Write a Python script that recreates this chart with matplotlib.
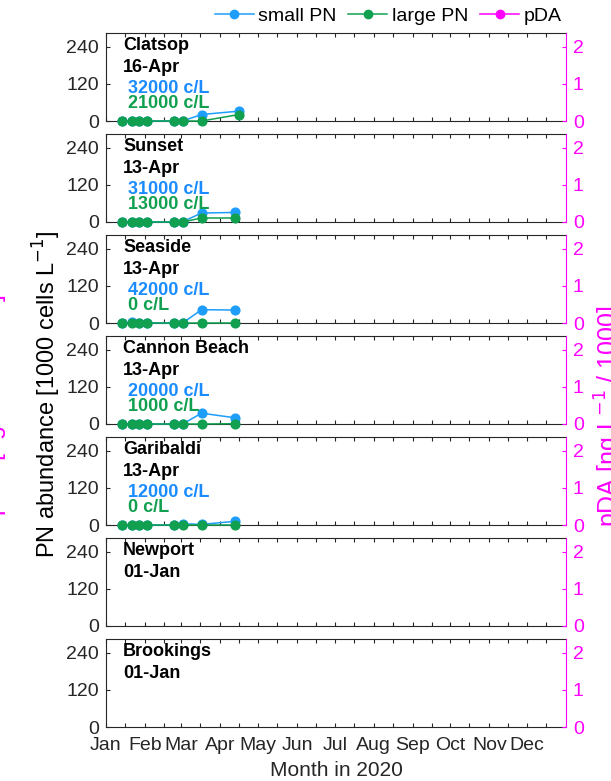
import matplotlib
matplotlib.use('Agg')
import matplotlib.pyplot as plt
from matplotlib.lines import Line2D
import pandas as pd

plt.rcParams['font.family'] = ['Liberation Sans', 'DejaVu Sans']

# ---------------- data ----------------
sites = ['Clatsop', 'Sunset', 'Seaside', 'Cannon Beach', 'Garibaldi', 'Newport', 'Brookings']
label_dates = ['16-Apr', '13-Apr', '13-Apr', '13-Apr', '13-Apr', '01-Jan', '01-Jan']
small_text = ['32000 c/L', '31000 c/L', '42000 c/L', '20000 c/L', '12000 c/L', '', '']
large_text = ['21000 c/L', '13000 c/L', '0 c/L', '1000 c/L', '0 c/L', '', '']

dates_clatsop = ['2020-01-14', '2020-01-22', '2020-01-27', '2020-02-03', '2020-02-24',
                 '2020-03-02', '2020-03-17', '2020-04-16']
dates_others = ['2020-01-14', '2020-01-22', '2020-01-27', '2020-02-03', '2020-02-24',
                '2020-03-02', '2020-03-17', '2020-04-13']

small_clatsop = [0, 0, 0, 0, 0, 0, 21, 32]
large_clatsop = [0, 0, 0, 0, 0, 0, 0, 21]
small_sunset = [0, 0, 0, 0, 0, 1, 29, 31]
large_sunset = [0, 0, 0, 0, 0, 0, 13, 13]
small_seaside = [0, 2, 0, 0, 0, 0, 43, 42]
large_seaside = [0, 0, 0, 0, 0, 0, 0, 0]
small_cannon = [0, 1, 0, 0, 0, 0, 35, 20]
large_cannon = [0, 0, 0, 0, 0, 0, 0, 1]
small_garibaldi = [0, 0, 0, 0, 0, 4, 2, 12]
large_garibaldi = [0, 0, 0, 0, 0, 0, 0, 0]

month_labels = ['Jan', 'Feb', 'Mar', 'Apr', 'May', 'Jun', 'Jul', 'Aug', 'Sep', 'Oct', 'Nov', 'Dec']
left_ticks = [0, 120, 240]
right_ticks = [0, 1, 2]

series = [
    (dates_clatsop, small_clatsop, large_clatsop),
    (dates_others, small_sunset, large_sunset),
    (dates_others, small_seaside, large_seaside),
    (dates_others, small_cannon, large_cannon),
    (dates_others, small_garibaldi, large_garibaldi),
    None,
    None,
]

# ---------------- style ----------------
BLUE = '#1E9EFA'
BLUE_TXT = '#1A8CFF'
GREEN = '#10A050'
MAG = '#FF00FF'
AX = '#262626'

W, H = 611, 781
fig = plt.figure(figsize=(W / 100, H / 100), dpi=100)

left_px, right_px = 106, 566
top0, step, hpx = 33, 101, 88

xmin = pd.Timestamp('2020-01-01')
xmax = pd.Timestamp('2021-01-01')
major = [pd.Timestamp(2020, m, 1) for m in range(1, 13)]
minor = [pd.Timestamp(2020, m, 16) for m in range(1, 13)]

for i, site in enumerate(sites):
    top = top0 + step * i
    ax = fig.add_axes([left_px / W, 1 - (top + hpx) / H, (right_px - left_px) / W, hpx / H])
    ax.set_xlim(xmin, xmax)
    ax.set_ylim(0, 285)
    ax.set_yticks(left_ticks)
    ax.set_xticks(major)
    ax.set_xticks(minor, minor=True)
    if i == len(sites) - 1:
        ax.set_xticklabels(month_labels)
    else:
        ax.set_xticklabels([])
    ax.tick_params(axis='both', which='both', direction='in', colors=AX, labelsize=14,
                   length=3, width=0.8, top=True)
    ax.tick_params(axis='x', which='major', pad=7)
    ax.tick_params(axis='y', pad=5)
    for s in ['left', 'bottom', 'top']:
        ax.spines[s].set_color(AX)
        ax.spines[s].set_linewidth(0.8)
    ax.spines['right'].set_visible(False)

    ax2 = ax.twinx()
    ax2.set_ylim(0, 2.375)
    ax2.set_yticks(right_ticks)
    ax2.tick_params(axis='y', direction='in', colors=MAG, labelsize=14, length=3, width=0.8, pad=5)
    ax2.spines['right'].set_color(MAG)
    ax2.spines['right'].set_linewidth(0.8)
    for s in ['left', 'bottom', 'top']:
        ax2.spines[s].set_visible(False)

    if series[i] is not None:
        d, sm, lg = series[i]
        dd = pd.to_datetime(d)
        ax.plot(dd, sm, '-o', color=BLUE, lw=1.1, ms=6.3, clip_on=False, zorder=3)
        ax.plot(dd, lg, '-o', color=GREEN, lw=1.1, ms=6.3, clip_on=False, zorder=4)

    ax.text(0.037, 0.81, site, transform=ax.transAxes, fontsize=13, fontweight='bold',
            color='black', va='baseline', ha='left')
    ax.text(0.037, 0.555, label_dates[i], transform=ax.transAxes, fontsize=13, fontweight='bold',
            color='black', va='baseline', ha='left')
    if small_text[i]:
        ax.text(0.037, 0.318, ' ' + small_text[i], transform=ax.transAxes, fontsize=13,
                fontweight='bold', color=BLUE_TXT, va='baseline', ha='left')
        ax.text(0.037, 0.148, ' ' + large_text[i], transform=ax.transAxes, fontsize=13,
                fontweight='bold', color=GREEN, va='baseline', ha='left')

# axis labels
fig.text((left_px + right_px) / 2 / W, 1 - 771 / H, 'Month in 2020', fontsize=15,
         color=AX, ha='center', va='center')
fig.text(47 / W, 1 - 394 / H, 'PN abundance [1000 cells L$^{-1}$]', fontsize=17,
         color='black', rotation=90, ha='center', va='center')
fig.text(593 / W, 1 - 416 / H, 'pDA [ng L$^{-1}$ / 1000]', fontsize=18,
         color=MAG, rotation=90, ha='left', va='center')
fig.text(10 / W, 1 - 405 / H, 'pDA [ng L$^{-1}$ / 1000]', fontsize=18,
         color=MAG, rotation=90, ha='right', va='center')

# legend
handles = [
    Line2D([], [], color=BLUE, marker='o', ms=6, lw=1.1),
    Line2D([], [], color=GREEN, marker='o', ms=6, lw=1.1),
    Line2D([], [], color=MAG, marker='o', ms=6, lw=1.1),
]
fig.legend(handles, ['small PN', 'large PN', 'pDA'], loc='center right',
           bbox_to_anchor=(562 / W, 1 - 16 / H), ncol=3, frameon=False, fontsize=14,
           handlelength=2.0, handletextpad=0.25, columnspacing=0.6, borderpad=0,
           borderaxespad=0)

fig.savefig('out.png', dpi=100)
